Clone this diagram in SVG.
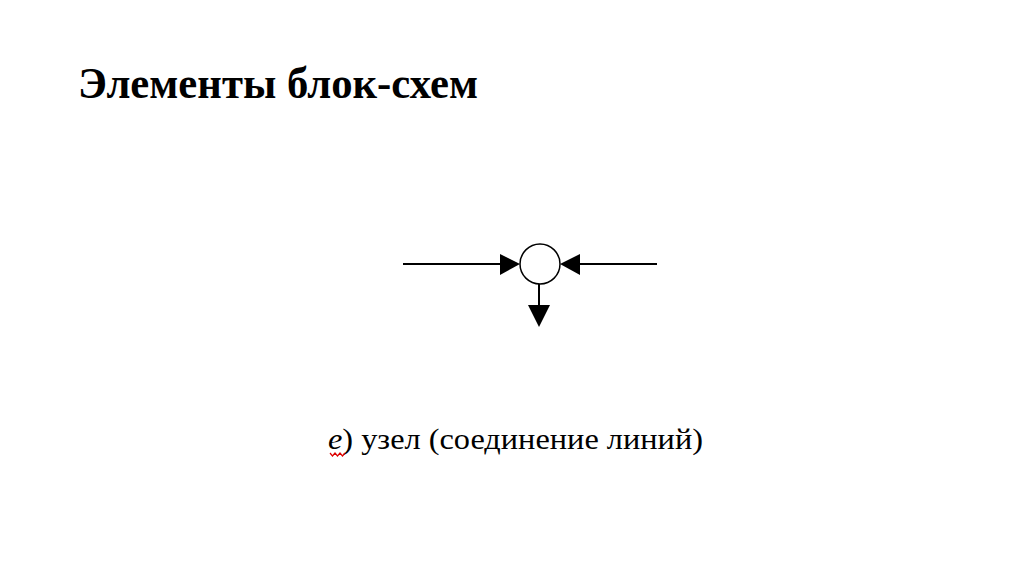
<svg xmlns="http://www.w3.org/2000/svg" width="1024" height="574" viewBox="0 0 1024 574">
<defs>
<style>
.ln{stroke:#000;stroke-width:2;fill:none}
.ah{fill:#000}
.title{font-family:"Liberation Serif","Times New Roman",serif;font-weight:bold;font-size:45px;fill:#000}
.cap{font-family:"Liberation Serif","Times New Roman",serif;font-size:29px;fill:#000}
</style>
</defs>
<rect width="1024" height="574" fill="#fff"/>
<text class="title" x="78" y="98" textLength="400" lengthAdjust="spacingAndGlyphs">Элементы блок-схем</text>
<g id="node">
<circle cx="540" cy="264" r="20" fill="#fff" stroke="#000" stroke-width="1.5"/>
</g>
<g id="connectors">
<line class="ln" x1="403" y1="264" x2="502" y2="264"/>
<polygon class="ah" points="500,254 520,264 500,275"/>
<line class="ln" x1="578" y1="264" x2="657" y2="264"/>
<polygon class="ah" points="580,254 560,264 580,275"/>
<line class="ln" x1="539" y1="284" x2="539" y2="307"/>
<polygon class="ah" points="528,305 550,305 539,327"/>
</g>
<g id="caption">
<text class="cap" x="328" y="449" textLength="375" lengthAdjust="spacingAndGlyphs"><tspan font-style="italic">е</tspan>) узел (соединение линий)</text>
<path d="M330,453 l2.5,3 l2.5,-3 l2.5,3 l2.5,-3 l2.5,3 l2.5,-3" stroke="#d00" stroke-width="1.2" fill="none"/>
</g>
</svg>
